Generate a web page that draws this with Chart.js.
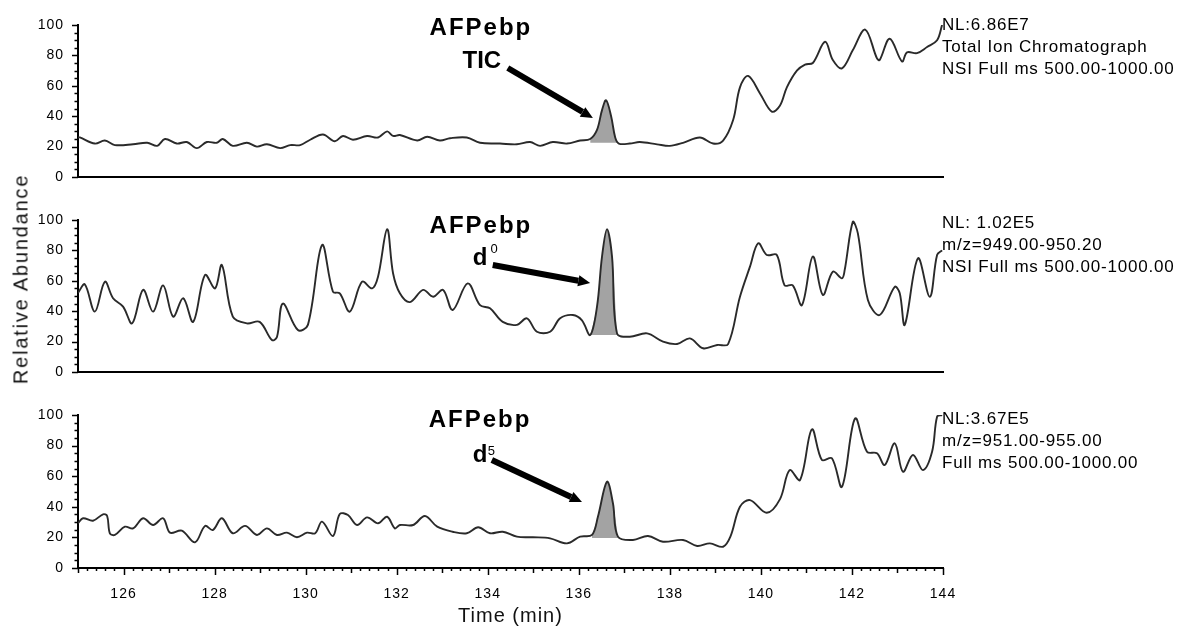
<!DOCTYPE html>
<html>
<head>
<meta charset="utf-8">
<script src="https://cdn.jsdelivr.net/npm/chart.js@4.4.1/dist/chart.umd.min.js"></script>
<style>
  body { margin: 0; background: #fff; }
  #wrap { position: relative; width: 1179px; height: 628px; overflow: hidden; background: #fff; }
  .panel { position: absolute; left: 0; width: 1179px; }
  #ytitle {
    position: absolute; left: 21px; top: 279px;
    transform: translate(-50%, -50%) rotate(-90deg);
    font: 20px 'Liberation Sans', Arial, sans-serif;
    letter-spacing: 1.8px; white-space: nowrap; color: #111;
  }
</style>
</head>
<body>
<div id="wrap">
  <div class="panel" style="top:0;height:195px"><canvas id="chart-tic" width="1179" height="195"></canvas></div>
  <div class="panel" style="top:195px;height:195px"><canvas id="chart-d0" width="1179" height="195"></canvas></div>
  <div class="panel" style="top:390px;height:238px"><canvas id="chart-d5" width="1179" height="238"></canvas></div>
  <div id="ytitle">Relative Abundance</div>
</div>
<script>
// ---- data (time in min, relative abundance in %) ----
var ticTime = [125.00, 125.04, 125.37, 125.59, 125.81, 126.21, 126.52, 126.74, 126.91, 127.17, 127.39, 127.61,
  127.83, 128.05, 128.18, 128.40, 128.71, 128.93, 129.15, 129.44, 129.66, 129.88, 130.10, 130.38, 130.64, 130.82,
  131.04, 131.35, 131.59, 131.79, 131.92, 132.07, 132.45, 132.67, 132.95, 133.17, 133.54, 133.83, 134.27, 134.64,
  134.93, 135.15, 135.43, 135.74, 136.03, 136.25, 136.40, 136.51, 136.60, 136.71, 136.80, 136.88, 137.12, 137.34,
  137.72, 138.00, 138.29, 138.66, 138.95, 139.17, 139.39, 139.54, 139.72, 139.98, 140.24, 140.42, 140.57, 140.79,
  140.97, 141.14, 141.41, 141.58, 141.78, 142.02, 142.29, 142.55, 142.61, 142.83, 143.10, 143.21, 143.43, 143.65,
  143.87, 143.98];
var ticAbund = [26, 26, 22, 24, 21, 21.5, 22.5, 20.5, 25, 22, 23, 19,
  23, 22.5, 25, 20.5, 22.5, 20, 21.5, 19, 21, 21, 24.5, 28, 23.5, 27,
  24.5, 27, 26, 30, 27, 27.6, 24, 26.5, 24, 25.5, 26, 22.5, 22, 21.5,
  23, 20.5, 23, 22, 24, 25, 31, 44, 50.5, 40, 26, 22, 22, 23,
  21.5, 20.5, 22.5, 26, 22, 24, 37.5, 59, 66.5, 55, 43, 47, 59, 70,
  74, 75, 89, 77, 71.5, 83.5, 97, 78, 77, 91, 76, 82, 81.5, 85.5,
  90, 100];

var d0Time = [125.00, 125.15, 125.37, 125.59, 125.77, 125.99, 126.19, 126.43, 126.65, 126.87, 127.09, 127.31,
  127.53, 127.79, 128.01, 128.16, 128.40, 128.71, 128.99, 129.26, 129.37, 129.50, 129.83, 130.05, 130.36, 130.60,
  130.75, 130.97, 131.24, 131.46, 131.59, 131.79, 131.92, 132.07, 132.29, 132.58, 132.80, 133.02, 133.23, 133.56,
  133.83, 134.05, 134.33, 134.64, 134.86, 135.08, 135.37, 135.59, 135.87, 136.07, 136.25, 136.40, 136.51, 136.62,
  136.73, 136.84, 137.12, 137.50, 137.85, 138.16, 138.44, 138.73, 139.04, 139.28, 139.54, 139.76, 139.94, 140.13,
  140.35, 140.52, 140.70, 140.90, 141.14, 141.36, 141.58, 141.78, 141.84, 142.02, 142.13, 142.35, 142.61, 142.94,
  143.05, 143.16, 143.45, 143.71, 143.87, 143.98];
var d0Abund = [52, 57.7, 39.7, 59.4, 48.5, 43, 32, 54, 39.7, 57, 36.4, 48.5,
  33, 63.8, 55, 70.4, 36.4, 32, 33, 21, 23, 45, 27.6, 31, 83.5, 52.8,
  51.8, 39.7, 59.4, 55, 62.7, 93.9, 65, 51.8, 46, 54, 49.5, 54, 40.8, 58.3,
  44, 41.9, 33, 31, 35.3, 26.5, 26.5, 35.3, 37.5, 34, 24.3, 43, 75.9, 93.9,
  75.9, 25.4, 23.2, 25.4, 20, 18.4, 22.1, 15.6, 17.8, 18.4, 49.5, 69.3, 84.7, 77,
  77, 57, 57, 44, 76, 50.7, 66, 61.6, 67, 98.9, 91.2, 47.4, 37.5, 56,
  51.8, 31, 74.8, 49.5, 77, 80];

var d5Time = [125.00, 125.11, 125.33, 125.55, 125.64, 125.70, 125.81, 126.03, 126.21, 126.43, 126.65, 126.87,
  127.02, 127.28, 127.57, 127.79, 127.96, 128.16, 128.40, 128.67, 128.93, 129.15, 129.37, 129.59, 129.81, 130.03,
  130.21, 130.36, 130.60, 130.75, 130.93, 131.13, 131.35, 131.59, 131.79, 131.96, 132.07, 132.36, 132.62, 132.89,
  133.23, 133.54, 133.79, 134.05, 134.33, 134.64, 134.99, 135.37, 135.74, 136.03, 136.29, 136.42, 136.62, 136.75,
  136.86, 137.19, 137.52, 137.85, 138.29, 138.60, 138.88, 139.17, 139.33, 139.54, 139.76, 140.13, 140.42, 140.63,
  140.86, 141.12, 141.34, 141.56, 141.78, 142.07, 142.33, 142.55, 142.72, 142.94, 143.12, 143.34, 143.56, 143.76,
  143.87, 143.98];
var d5Abund = [29.2, 32.5, 30.9, 35.1, 34, 22.7, 21.6, 27, 25.9, 32.5, 28.1, 32.5,
  23.1, 24.4, 16.8, 27.5, 24.8, 32.5, 22.7, 27.5, 21.6, 25.9, 21.6, 23.1, 20.1, 23.1,
  22.7, 30.3, 20.9, 35.3, 34.6, 28.1, 33.1, 29.2, 33.5, 25.9, 28.1, 28.1, 34, 27,
  23.7, 22.7, 26.6, 22.7, 23.7, 20.5, 20.1, 19.4, 16.1, 20.5, 21.6, 33.5, 56.4, 42.3,
  20.5, 18.3, 20.9, 17.2, 18.3, 14.4, 16.1, 13.9, 20.5, 40, 44.4, 36.1, 45, 64,
  57.5, 90.6, 70.6, 71.7, 53.1, 97.8, 76, 75, 67.3, 81.5, 62.9, 73.9, 64, 76,
  98.9, 100];

// integrated peak windows [start, end] and their baselines
var ticPeak = [136.25, 136.88], ticPeakBase = 22.5;
var d0Peak = [136.25, 136.84], d0PeakBase = 24.3;
var d5Peak = [136.29, 136.86], d5PeakBase = 19.6;

var xRange = [125, 144];
var xTickLabels = [126, 128, 130, 132, 134, 136, 138, 140, 142, 144];
var xMinorStep = 0.2;
var yTickLabels = [0, 20, 40, 60, 80, 100];
var yMinorStep = 5;

var FONT = "'Liberation Sans', Arial, sans-serif";
Chart.defaults.font.family = FONT;
Chart.defaults.color = '#000';

function toPoints(times, values) {
  return times.map(function (t, i) { return { x: t, y: values[i] }; });
}

function peakPoints(times, values, range) {
  return toPoints(times, values).filter(function (p) { return p.x >= range[0] && p.x <= range[1]; });
}

/** Tick marks of varying length (major / medium / minor). */
var tickMarksPlugin = {
  id: 'tickMarks',
  beforeDraw: function (chart) {
    chart.ctx.letterSpacing = '1px';
  },
  afterDraw: function (chart) {
    var ctx = chart.ctx, area = chart.chartArea;
    var xs = chart.scales.x, ys = chart.scales.y;
    ctx.save();
    ctx.strokeStyle = '#000';
    ctx.lineWidth = 1.5;
    ctx.beginPath();
    ys.ticks.forEach(function (t) {
      var py = Math.round(ys.getPixelForValue(t.value)) + 0.5;
      var len = yTickLabels.indexOf(t.value) >= 0 ? 6 : 3.5;
      ctx.moveTo(area.left - len, py);
      ctx.lineTo(area.left, py);
    });
    if (xs.options.ticks.display) {
      xs.ticks.forEach(function (t) {
        var px = Math.round(xs.getPixelForValue(t.value)) + 0.5;
        var v = Math.round(t.value * 10) / 10;
        var len = 3;
        if (xTickLabels.indexOf(v) >= 0) len = 7;
        else if (v === Math.round(v)) len = 5;
        ctx.moveTo(px, area.bottom);
        ctx.lineTo(px, area.bottom + len);
      });
    }
    ctx.stroke();
    ctx.restore();
  }
};

/** Peak label, arrow and the scan info at the right of each trace. */
function notesPlugin(notes) {
  return {
    id: 'notes',
    afterDraw: function (chart) {
      var ctx = chart.ctx, area = chart.chartArea;
      var xs = chart.scales.x, ys = chart.scales.y;
      ctx.save();
      ctx.fillStyle = '#000';
      ctx.textBaseline = 'alphabetic';
      notes.labels.forEach(function (l) {
        ctx.font = l.font;
        ctx.letterSpacing = l.spacing || '0px';
        ctx.textAlign = 'center';
        ctx.fillText(l.text, xs.getPixelForValue(l.t), ys.getPixelForValue(l.v));
      });

      var a = notes.arrow;
      var x1 = xs.getPixelForValue(a.from[0]), y1 = ys.getPixelForValue(a.from[1]);
      var x2 = xs.getPixelForValue(a.to[0]), y2 = ys.getPixelForValue(a.to[1]);
      var ang = Math.atan2(y2 - y1, x2 - x1);
      var head = 12;
      var bx = x2 - head * Math.cos(ang), by = y2 - head * Math.sin(ang);
      ctx.strokeStyle = '#000';
      ctx.lineWidth = 6;
      ctx.lineCap = 'butt';
      ctx.beginPath();
      ctx.moveTo(x1, y1);
      ctx.lineTo(bx, by);
      ctx.stroke();
      ctx.beginPath();
      ctx.moveTo(x2, y2);
      ctx.lineTo(bx + 5.5 * Math.sin(ang), by - 5.5 * Math.cos(ang));
      ctx.lineTo(bx - 5.5 * Math.sin(ang), by + 5.5 * Math.cos(ang));
      ctx.closePath();
      ctx.fill();

      ctx.font = '17px ' + FONT;
      ctx.letterSpacing = '0.8px';
      ctx.textAlign = 'left';
      ctx.textBaseline = 'middle';
      notes.info.forEach(function (line, i) {
        ctx.fillText(line, xs.getPixelForValue(xRange[1]) - 1, area.top + notes.infoTop + i * 22);
      });
      ctx.restore();
    }
  };
}

function makePanel(id, times, values, peak, peakBase, notes, bottomAxis) {
  var ctx = document.getElementById(id).getContext('2d');
  return new Chart(ctx, {
    type: 'line',
    data: {
      datasets: [{
        data: toPoints(times, values),
        borderColor: '#2a2a2a',
        borderWidth: 1.9,
        pointRadius: 0,
        tension: 0.35,
        fill: false,
        order: 0
      }, {
        data: peakPoints(times, values, peak),
        borderWidth: 0,
        borderColor: 'rgba(0,0,0,0)',
        backgroundColor: '#a3a3a3',
        pointRadius: 0,
        tension: 0.35,
        fill: { value: peakBase },
        order: 1
      }]
    },
    options: {
      responsive: false,
      animation: false,
      events: [],
      layout: { padding: { left: 0, right: 236, top: 25, bottom: bottomAxis ? 0 : 18 } },
      plugins: { legend: { display: false }, tooltip: { enabled: false } },
      scales: {
        x: {
          type: 'linear',
          min: xRange[0],
          max: xRange[1],
          grid: { display: false },
          border: { display: true, color: '#000', width: 2 },
          afterBuildTicks: function (scale) {
            var ticks = [];
            var n = Math.round((xRange[1] - xRange[0]) / xMinorStep);
            for (var i = 0; i <= n; i++) ticks.push({ value: Math.round((xRange[0] + i * xMinorStep) * 10) / 10 });
            scale.ticks = ticks;
          },
          afterFit: function (scale) { scale.height = bottomAxis ? 60 : 0; },
          ticks: {
            display: bottomAxis,
            autoSkip: false,
            maxRotation: 0,
            padding: 10,
            font: { size: 14 },
            color: '#000',
            callback: function (v) {
              var r = Math.round(v * 10) / 10;
              return xTickLabels.indexOf(r) >= 0 ? String(r) : '';
            }
          },
          title: {
            display: bottomAxis,
            text: 'Time (min)',
            font: { size: 20 },
            color: '#111',
            padding: { top: 4, bottom: 0 }
          }
        },
        y: {
          min: 0,
          max: 100,
          grid: { display: false },
          border: { display: true, color: '#000', width: 2 },
          afterBuildTicks: function (scale) {
            var ticks = [];
            for (var v = 0; v <= 100; v += yMinorStep) ticks.push({ value: v });
            scale.ticks = ticks;
          },
          afterFit: function (scale) { scale.width = 78; },
          ticks: {
            autoSkip: false,
            padding: 6,
            font: { size: 14 },
            color: '#000',
            callback: function (v) { return yTickLabels.indexOf(v) >= 0 ? String(v) : ''; }
          }
        }
      }
    },
    plugins: [tickMarksPlugin, notesPlugin(notes)]
  });
}

var BOLD = 'bold 24px ' + FONT;

makePanel('chart-tic', ticTime, ticAbund, ticPeak, ticPeakBase, {
  labels: [
    { text: 'AFPebp', t: 133.85, v: 93.4, font: BOLD, spacing: '2px' },
    { text: 'TIC', t: 133.87, v: 71.7, font: BOLD, spacing: '0px' }
  ],
  arrow: { from: [134.44, 71.7], to: [136.31, 38.8] },
  infoTop: 0,
  info: ['NL:6.86E7', 'Total Ion Chromatograph', 'NSI Full ms 500.00-1000.00']
}, false);

makePanel('chart-d0', d0Time, d0Abund, d0Peak, d0PeakBase, {
  labels: [
    { text: 'AFPebp', t: 133.85, v: 91.4, font: BOLD, spacing: '2px' },
    { text: 'd', t: 133.83, v: 70.4, font: BOLD },
    { text: '0', t: 134.14, v: 78.3, font: '13px ' + FONT }
  ],
  arrow: { from: [134.11, 70.4], to: [136.25, 58.6] },
  infoTop: 3,
  info: ['NL: 1.02E5', 'm/z=949.00-950.20', 'NSI Full ms 500.00-1000.00']
}, false);

makePanel('chart-d5', d5Time, d5Abund, d5Peak, d5PeakBase, {
  labels: [
    { text: 'AFPebp', t: 133.83, v: 92.2, font: BOLD, spacing: '2px' },
    { text: 'd', t: 133.83, v: 69.3, font: BOLD },
    { text: '5', t: 134.08, v: 73.9, font: '13px ' + FONT }
  ],
  arrow: { from: [134.09, 70.6], to: [136.07, 43.1] },
  infoTop: 4,
  info: ['NL:3.67E5', 'm/z=951.00-955.00', 'Full ms 500.00-1000.00']
}, true);
</script>
</body>
</html>
